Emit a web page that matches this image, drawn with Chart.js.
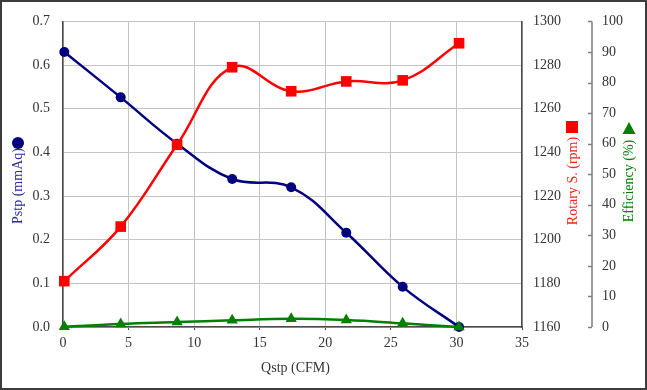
<!DOCTYPE html>
<html>
<head>
<meta charset="utf-8">
<script src="https://cdn.jsdelivr.net/npm/chart.js@4.4.1/dist/chart.umd.min.js"></script>
<style>
  html, body { margin: 0; padding: 0; background: #fff; }
  canvas { display: block; }
</style>
</head>
<body>
<canvas id="fanChart" width="647" height="390"></canvas>
<script>
// values
const qstp = [0.1, 4.4, 8.7, 12.9, 17.4, 21.6, 25.9, 30.2];
const pstp = [0.63, 0.526, 0.42, 0.339, 0.32, 0.216, 0.092, 0.0];
const rotary = [1181, 1206, 1243.5, 1279, 1268, 1272.5, 1273, 1290];
const efficiency = [0.1, 1.0, 1.6, 2.2, 2.7, 2.3, 1.2, 0.0];

const xRange = [0, 35, 5];
const pstpRange = [0, 0.7, 0.1];
const rotaryRange = [1160, 1300, 20];
const effRange = [0, 100, 10];

const FONT = '"Liberation Serif", "Times New Roman", serif';
const AXIS_DARK = '#4a4a4a';
const GRID = '#c4c4c4';

const toPoints = (ys) => qstp.map((x, i) => ({ x, y: ys[i] }));

// titles with their marker symbols + the separate efficiency axis line
const extraAxes = {
  id: 'extraAxes',
  afterDraw(chart) {
    const { ctx, chartArea, scales } = chart;
    ctx.save();

    // efficiency axis line with ticks pointing left
    const eff = scales.yEff;
    const ax = 592;
    ctx.strokeStyle = '#7f7f7f';
    ctx.lineWidth = 1.5;
    ctx.beginPath();
    ctx.moveTo(ax, eff.getPixelForValue(effRange[1]));
    ctx.lineTo(ax, eff.getPixelForValue(effRange[0]));
    for (let v = effRange[0]; v <= effRange[1]; v += effRange[2]) {
      const y = Math.round(eff.getPixelForValue(v)) + 0.5;
      ctx.moveTo(ax - 4, y);
      ctx.lineTo(ax, y);
    }
    ctx.stroke();

    ctx.font = '14px ' + FONT;
    ctx.textAlign = 'center';
    ctx.textBaseline = 'middle';

    // x title
    ctx.fillStyle = '#333';
    ctx.fillText('Qstp (CFM)', (chartArea.left + chartArea.right) / 2 + 3, 368);

    const vTitle = (text, x, y, color) => {
      ctx.save();
      ctx.translate(x, y);
      ctx.rotate(-Math.PI / 2);
      ctx.fillStyle = color;
      ctx.fillText(text, 0, 0);
      ctx.restore();
    };

    vTitle('Pstp (mmAq)', 18, 186, '#2a2a90');
    ctx.fillStyle = '#000080';
    ctx.beginPath();
    ctx.arc(18, 143, 6, 0, Math.PI * 2);
    ctx.fill();

    vTitle('Rotary S. (rpm)', 573, 181, '#ff2020');
    ctx.fillStyle = '#ff0000';
    ctx.fillRect(566, 121, 12, 12);

    vTitle('Efficiency (%)', 629, 181, '#008000');
    ctx.fillStyle = '#008000';
    ctx.beginPath();
    ctx.moveTo(629, 122);
    ctx.lineTo(635.5, 134);
    ctx.lineTo(622.5, 134);
    ctx.closePath();
    ctx.fill();

    // outer frame
    ctx.strokeStyle = '#3c3c3c';
    ctx.lineWidth = 2;
    ctx.strokeRect(1, 1, 645, 388);

    ctx.restore();
  }
};

const tickFont = { family: FONT, size: 14 };

new Chart(document.getElementById('fanChart').getContext('2d'), {
  type: 'scatter',
  data: {
    datasets: [
      {
        label: 'Pstp (mmAq)',
        data: toPoints(pstp),
        yAxisID: 'y',
        showLine: true,
        tension: 0.4,
        clip: false,
        borderColor: '#000080',
        backgroundColor: '#000080',
        borderWidth: 2.5,
        pointStyle: 'circle',
        pointRadius: 5,
        pointBorderWidth: 0,
        order: 3
      },
      {
        label: 'Rotary S. (rpm)',
        data: toPoints(rotary),
        yAxisID: 'yRot',
        showLine: true,
        tension: 0.4,
        clip: false,
        borderColor: '#ff0000',
        backgroundColor: '#ff0000',
        borderWidth: 2.5,
        pointStyle: 'rect',
        pointRadius: 7.5,
        pointBorderWidth: 0,
        order: 2
      },
      {
        label: 'Efficiency (%)',
        data: toPoints(efficiency),
        yAxisID: 'yEff',
        showLine: true,
        tension: 0.4,
        clip: false,
        borderColor: '#008000',
        backgroundColor: '#008000',
        borderWidth: 2.5,
        pointStyle: 'triangle',
        pointRadius: 6.5,
        pointBorderWidth: 0,
        order: 1
      }
    ]
  },
  options: {
    responsive: false,
    animation: false,
    layout: { padding: { top: 19, left: 0, right: 0, bottom: 0 } },
    plugins: {
      legend: { display: false },
      tooltip: { enabled: false }
    },
    scales: {
      x: {
        type: 'linear',
        min: xRange[0],
        max: xRange[1],
        ticks: { stepSize: xRange[2], font: tickFont, color: '#333', padding: 5, maxRotation: 0 },
        grid: { color: GRID, lineWidth: 1, drawTicks: true, tickLength: 3, tickColor: AXIS_DARK },
        border: { color: AXIS_DARK, width: 1.5 },
        afterFit: (s) => { s.height = 63; }
      },
      y: {
        position: 'left',
        min: pstpRange[0],
        max: pstpRange[1],
        ticks: {
          stepSize: pstpRange[2], font: tickFont, color: '#333', padding: 13,
          callback: (v) => Number(v).toFixed(1)
        },
        grid: { color: GRID, lineWidth: 1, drawTicks: false },
        border: { color: AXIS_DARK, width: 1.5 },
        afterFit: (s) => { s.width = 63; }
      },
      yRot: {
        position: 'right',
        min: rotaryRange[0],
        max: rotaryRange[1],
        ticks: {
          stepSize: rotaryRange[2], font: tickFont, color: '#333', padding: 11,
          callback: (v) => String(v)
        },
        grid: { drawOnChartArea: false, drawTicks: false },
        border: { color: AXIS_DARK, width: 1.5 },
        afterFit: (s) => { s.width = 70; }
      },
      yEff: {
        position: 'right',
        min: effRange[0],
        max: effRange[1],
        ticks: { stepSize: effRange[2], font: tickFont, color: '#333', padding: 10 },
        grid: { display: false, drawOnChartArea: false, drawTicks: false },
        border: { display: false },
        afterFit: (s) => { s.width = 55; }
      }
    }
  },
  plugins: [extraAxes]
});
</script>
</body>
</html>
